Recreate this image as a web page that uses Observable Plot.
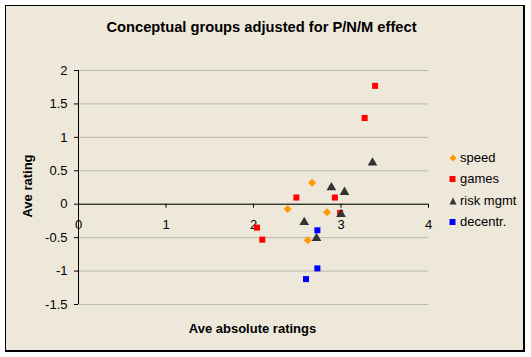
<!DOCTYPE html>
<html>
<head>
<meta charset="utf-8">
<script src="https://cdn.jsdelivr.net/npm/d3@7"></script>
<script src="https://cdn.jsdelivr.net/npm/@observablehq/plot@0.6"></script>
<style>
  body { margin: 0; background: #fff; font-family: Arial, "Liberation Sans", sans-serif; }
  #wrap { position: relative; width: 531px; height: 357px; background: #fff; overflow: hidden; }
  #frame { position: absolute; left: 5px; top: 5px; width: 517px; height: 344px;
           background: #EEE8DB; border-top: 1px solid #000; border-left: 1px solid #000;
           border-right: 2px solid #000; border-bottom: 2px solid #000; }
  #chart { position: absolute; left: 0; top: 0; }
  .t { position: absolute; font-weight: bold; font-size: 13px; color: #000; white-space: nowrap; line-height: 16px; }
  #legend { position: absolute; left: 449px; top: 147px; font-size: 13px; line-height: 16px; }
  #legend .row { height: 21.5px; display: flex; align-items: center; }
  #legend svg { margin-right: 2px; }
</style>
</head>
<body>
<div id="wrap">
  <div id="frame"></div>
  <div id="chart"></div>
  <div class="t" style="left:0;width:523px;text-align:center;top:18px;font-size:14.7px;line-height:18px;">Conceptual groups adjusted for P/N/M effect</div>
  <div class="t" style="left:0;width:505px;text-align:center;top:321px;">Ave absolute ratings</div>
  <div class="t" style="left:28px;top:186px;transform:translate(-50%,-50%) rotate(-90deg);">Ave rating</div>
  <div id="legend"></div>
</div>
<script>
// Data
const seriesNames = ["speed", "games", "risk mgmt", "decentr."];
const speedX = [2.67, 2.39, 2.84, 2.62];
const speedY = [0.32, -0.07, -0.12, -0.54];
const gamesX = [3.39, 3.27, 2.49, 2.93, 2.99, 2.04, 2.10];
const gamesY = [1.77, 1.29, 0.10, 0.10, -0.13, -0.35, -0.53];
const riskX = [3.36, 2.89, 3.04, 3.00, 2.58, 2.72];
const riskY = [0.62, 0.25, 0.18, -0.15, -0.27, -0.51];
const decX = [2.73, 2.73, 2.60];
const decY = [-0.39, -0.96, -1.12];
const xTicks = [0, 1, 2, 3, 4];
const yTicks = [-1.5, -1, -0.5, 0, 0.5, 1, 1.5, 2];

const colors = ["#FF9900", "#FF0000", "#333333", "#0000FF"];
const symbols = ["diamond2", "square", "triangle", "square"];
const radii = [3.6, 3.4, 3.6, 3.4];

const toRows = (xs, ys) => xs.map((x, i) => ({x, y: ys[i]}));
const groups = [toRows(speedX, speedY), toRows(gamesX, gamesY), toRows(riskX, riskY), toRows(decX, decY)];

const chart = Plot.plot({
  width: 531,
  height: 357,
  marginLeft: 78,
  marginRight: 103,
  marginTop: 70,
  marginBottom: 53,
  x: {domain: [0, 4], axis: null},
  y: {domain: [-1.5, 2], axis: null},
  style: {background: "transparent", fontFamily: "Arial, 'Liberation Sans', sans-serif", fontSize: "13px", color: "#000"},
  marks: [
    Plot.gridY(yTicks, {stroke: "#BDB8AE", strokeOpacity: 1}),
    Plot.ruleX([0], {stroke: "#000"}),
    Plot.ruleY([0], {stroke: "#000"}),
    Plot.axisY(yTicks, {tickSize: 4, tickPadding: 7, label: null, tickFormat: d => String(d), fontSize: 13}),
    Plot.ruleX(xTicks, {x: d => d, y1: 0, y2: 0, insetTop: 0, insetBottom: -4, stroke: "#000"}),
    Plot.text(xTicks, {x: d => d, y: 0, dy: 21, text: d => String(d), fontSize: 13}),
    ...groups.map((g, k) => Plot.dot(g, {x: "x", y: "y", symbol: symbols[k], fill: colors[k], stroke: "none", r: radii[k]}))
  ]
});
document.getElementById("chart").appendChild(chart);

// Legend
const legend = document.getElementById("legend");
const shapes = [
  '<polygon points="4,0.5 7.5,4 4,7.5 0.5,4" fill="#FF9900"/>',
  '<rect x="0.5" y="1" width="6" height="6" fill="#FF0000"/>',
  '<polygon points="4,0.5 7.5,7.5 0.5,7.5" fill="#333333"/>',
  '<rect x="0.5" y="1" width="6" height="6" fill="#0000FF"/>'
];
seriesNames.forEach((name, k) => {
  const row = document.createElement("div");
  row.className = "row";
  row.innerHTML = '<svg width="9" height="8">' + shapes[k] + '</svg><span>' + name + '</span>';
  legend.appendChild(row);
});
</script>
</body>
</html>
